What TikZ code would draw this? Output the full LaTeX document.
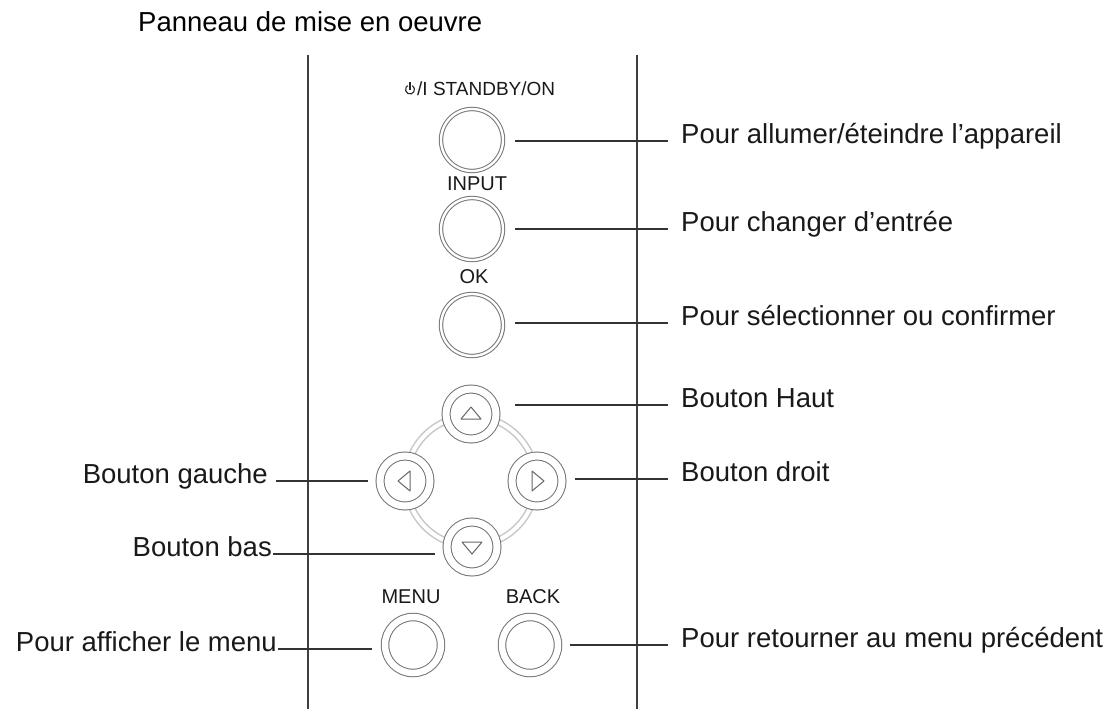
\documentclass[tikz,border=0pt]{standalone}
\usepackage{fontspec}
\setmainfont{Liberation Sans}
\begin{document}
\begin{tikzpicture}[x=1pt, y=-1pt,
    lead/.style={draw=black!80, line width=1.3pt},
    frame/.style={draw=black!75, line width=1.3pt},
    btn/.style={circle, draw=black!55, fill=white, line width=1pt, double=white, double distance=2.4pt, minimum size=62pt, inner sep=0pt, outer sep=0pt},
    padbtn/.style={btn, double distance=7pt, minimum size=50pt},
    menubtn/.style={btn, double distance=6.5pt, minimum size=56pt},
    btncap/.style={font=\fontsize{20}{24}\selectfont, anchor=base, inner sep=0pt, text=black!90},
    txt/.style={font=\fontsize{27.5}{33}\selectfont, inner sep=0pt, text=black!90},
    tri/.style={draw=black!60, line width=1pt, line join=round}]

    \useasboundingbox (0,0) rectangle (1115,709);

    % Title
    \node[font=\fontsize{27.5}{33}\selectfont, anchor=base west, inner sep=0pt] (title) at (138,32) {Panneau de mise en oeuvre};

    % Panel edges
    \draw[frame] (308,55) -- (308,709);
    \draw[frame] (637,55) -- (637,709);

    % Ring behind the arrow pad
    \draw[draw=black!22, line width=1.5pt, double=white, double distance=4pt] (471,481) circle [radius=65pt];

    % Buttons
    \node[btn] (power) at (472,140) {};
    \node[btn] (input) at (472,229) {};
    \node[btn] (ok) at (472,325) {};
    \node[padbtn] (up) at (471,414) {};
    \node[padbtn] (left) at (405,481) {};
    \node[padbtn] (right) at (537,481) {};
    \node[padbtn] (down) at (472,547) {};
    \node[menubtn] (menu) at (413,645) {};
    \node[menubtn] (back) at (530,645) {};

    % Arrows on the pad
    \foreach \b/\r in {up/0, left/90, down/180, right/270}
        \draw[tri, shift={(\b.center)}, rotate=\r] (-10,5) -- (10,5) -- (0,-7) -- cycle;

    % Button captions
    \node[btncap, font=\fontsize{19}{23}\selectfont, anchor=base west] (powercap) at (405,95) {\hspace{12pt}/I STANDBY/ON};
    \node[btncap] (inputcap) at (477,190) {INPUT};
    \node[btncap] (okcap) at (474,283) {OK};
    \node[btncap] (menucap) at (411,603) {MENU};
    \node[btncap] (backcap) at (533,603) {BACK};

    % Power sign in front of STANDBY/ON
    \coordinate (pw) at ([shift={(5,-5.5)}]powercap.base west);
    \draw[black!85, line width=1.1pt] (pw) ++(60:4.5pt) arc[start angle=60, end angle=-240, radius=4.5pt];
    \draw[black!85, line width=1.1pt] (pw) -- ++(0,-7.5);

    % Labels
    \node[txt, anchor=mid west] (tpower) at (681,141) {Pour allumer/éteindre l’appareil};
    \node[txt, anchor=mid west] (tinput) at (681,229) {Pour changer d’entrée};
    \node[txt, anchor=mid west] (tok) at (681,323) {Pour sélectionner ou confirmer};
    \node[txt, anchor=mid west] (tup) at (681,405) {Bouton Haut};
    \node[txt, anchor=mid west] (tright) at (681,479) {Bouton droit};
    \node[txt, anchor=mid west] (tback) at (681,645) {Pour retourner au menu précédent};
    \node[txt, anchor=mid east] (tleft) at (268,481) {Bouton gauche};
    \node[txt, anchor=mid east] (tdown) at (272,554) {Bouton bas};
    \node[txt, anchor=mid east] (tmenu) at (277,649) {Pour afficher le menu};

    % Leaders
    \foreach \b/\t/\s in {power/tpower/12, input/tinput/12, ok/tok/12, up/tup/19, right/tright/13, back/tback/12}
        \draw[lead, shorten <=13pt, shorten >=\s pt] (\t.mid west) -- (\t.mid west -| \b.east);
    \foreach \b/\t/\s/\g in {left/tleft/12/8, down/tdown/12/1, menu/tmenu/13/1}
        \draw[lead, shorten <=\g pt, shorten >=\s pt] (\t.mid east) -- (\t.mid east -| \b.west);
\end{tikzpicture}
\end{document}
